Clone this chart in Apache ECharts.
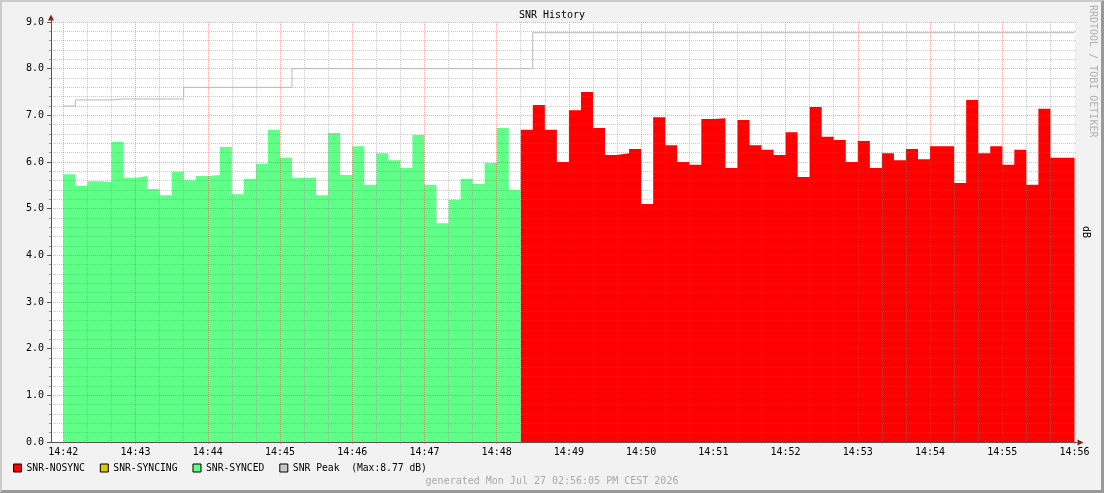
<!DOCTYPE html>
<html>
<head>
<meta charset="UTF-8">
<title>SNR History</title>
<script src="https://cdn.jsdelivr.net/npm/echarts@6/dist/echarts.min.js"></script>
<style>
    html, body { margin: 0; padding: 0; background: #f2f2f2; }
    #chart { width: 1104px; height: 493px; }
    #frame {
        position: absolute; left: 0; top: 0; width: 1104px; height: 493px; box-sizing: border-box;
        border-top: 2px solid #cbcbcb; border-left: 2px solid #cbcbcb;
        border-right: 3px solid #999; border-bottom: 3px solid #999; pointer-events: none;
    }
</style>
</head>
<body>
<div id="chart"></div>
<div id="frame"></div>
<script>
    // tick labels, one per minute
    var timeLabels = ['14:42', '14:43', '14:44', '14:45', '14:46', '14:47', '14:48',
        '14:49', '14:50', '14:51', '14:52', '14:53', '14:54', '14:55', '14:56'];
    var stepSeconds = 10;

    // SNR per 10 s step (dB)
    var syncedValues = [5.74, 5.49, 5.59, 5.57, 6.43, 5.66, 5.70, 5.42, 5.29, 5.79,
        5.61, 5.70, 5.72, 6.32, 5.31, 5.64, 5.96, 6.69, 6.09, 5.66,
        5.66, 5.29, 6.62, 5.72, 6.34, 5.51, 6.19, 6.04, 5.87, 6.58,
        5.51, 4.69, 5.19, 5.64, 5.53, 5.98, 6.73, 5.40];
    var syncingValues = [];
    var nosyncValues = [6.69, 7.22, 6.69, 6.00, 7.11, 7.50, 6.73, 6.15, 6.19, 6.28,
        5.10, 6.96, 6.36, 6.00, 5.94, 6.92, 6.94, 5.87, 6.90, 6.36,
        6.26, 6.15, 6.64, 5.68, 7.18, 6.54, 6.47, 6.00, 6.45, 5.87,
        6.19, 6.04, 6.28, 6.06, 6.34, 6.34, 5.55, 7.33, 6.19, 6.34,
        5.94, 6.26, 5.51, 7.14, 6.09, 6.09];

    // peak: step index where it changes, and the new value
    var peakChangeIndex = [0, 1, 4, 10, 19, 39];
    var peakValues = [7.20, 7.33, 7.35, 7.60, 8.00, 8.77];

    var yTicks = [0, 1, 2, 3, 4, 5, 6, 7, 8, 9];

    function stepPoints(values, start) {
        var pts = values.map(function (v, i) { return [(start + i) * stepSeconds, v]; });
        if (values.length) pts.push([(start + values.length) * stepSeconds, values[values.length - 1]]);
        return pts;
    }

    var total = syncedValues.length + nosyncValues.length;
    var peakPerStep = [];
    for (var i = 0; i < total; i++) {
        var k = 0;
        while (k + 1 < peakChangeIndex.length && peakChangeIndex[k + 1] <= i) k++;
        peakPerStep.push(peakValues[k]);
    }
    var peakMax = Math.max.apply(null, peakValues).toFixed(2);

    var mono = 'DejaVu Sans Mono';
    var majorColor = 'rgba(230,60,60,0.45)';
    var minorColor = 'rgba(130,130,130,0.43)';
    var tMax = (timeLabels.length - 1) * 60;

    var chart = echarts.init(document.getElementById('chart'));
    var option = {
        animation: false,
        backgroundColor: '#f2f2f2',
        textStyle: { fontFamily: mono },
        title: [
            { text: 'SNR History', left: 'center', top: 10, padding: 0,
              textStyle: { fontFamily: mono, fontSize: 10, fontWeight: 'normal', color: '#000' } },
            { text: 'generated Mon Jul 27 02:56:05 PM CEST 2026', left: 'center', top: 476, padding: 0,
              textStyle: { fontFamily: mono, fontSize: 10, fontWeight: 'normal', color: '#aaa' } }
        ],
        legend: {
            left: 13, top: 463, padding: 0, itemWidth: 8, itemHeight: 8, itemGap: 15, icon: 'rect',
            itemStyle: { borderColor: '#000', borderWidth: 1 },
            textStyle: { fontFamily: mono, fontSize: 9.7, color: '#000' },
            data: ['SNR-NOSYNC', 'SNR-SYNCING', 'SNR-SYNCED', 'SNR Peak'],
            formatter: function (name) {
                return name === 'SNR Peak' ? 'SNR Peak  (Max:' + peakMax + ' dB)' : name;
            }
        },
        grid: [
            { left: 63.3, right: 29.5, top: 22, bottom: 51 },
            { left: 51, right: 27, top: 22, bottom: 51 }
        ],
        graphic: [
            { type: 'rect', z: -1, silent: true, shape: { x: 51, y: 22, width: 1023.5, height: 420 }, style: { fill: '#fff' } },
            { type: 'polygon', z: 5, silent: true, shape: { points: [[51, 14.5], [48, 20.5], [54, 20.5]] }, style: { fill: '#8e1b1b' } },
            { type: 'line', z: 5, silent: true, shape: { x1: 51.5, y1: 22, x2: 51.5, y2: 19 }, style: { stroke: '#555', lineWidth: 1 } },
            { type: 'polygon', z: 5, silent: true, shape: { points: [[1083.5, 442.5], [1077.5, 439.5], [1077.5, 445.5]] }, style: { fill: '#8e1b1b' } },
            { type: 'text', x: 1093, y: 5, rotation: -Math.PI / 2, silent: true,
              style: { text: 'RRDTOOL / TOBI OETIKER', fill: '#b0b0b0', font: '10px "DejaVu Sans Mono"', align: 'left', verticalAlign: 'middle' } },
            { type: 'text', x: 1086, y: 232, rotation: -Math.PI / 2, silent: true,
              style: { text: 'dB', fill: '#000', font: '10px "DejaVu Sans Mono"', align: 'center', verticalAlign: 'middle' } }
        ],
        xAxis: [
            {
                gridIndex: 0, type: 'value', min: 0, max: tMax, interval: 60, z: 3,
                axisLine: { show: false },
                axisTick: { show: true, length: 2, lineStyle: { color: majorColor } },
                minorTick: { show: true, splitNumber: 3, length: 2, lineStyle: { color: minorColor } },
                axisLabel: { margin: 5, fontFamily: mono, fontSize: 10, color: '#000',
                    formatter: function (v) { return timeLabels[Math.round(v / 60)]; } },
                splitLine: { show: true, showMaxLine: false, lineStyle: { color: majorColor, type: [1, 1] } },
                minorSplitLine: { show: true, lineStyle: { color: minorColor, type: [1, 1] } }
            },
            {
                gridIndex: 1, type: 'value', min: 0, max: 1, z: 3,
                axisLine: { show: true, lineStyle: { color: '#555' } },
                axisTick: { show: false }, axisLabel: { show: false }, splitLine: { show: false }
            }
        ],
        yAxis: [
            { gridIndex: 0, type: 'value', min: 0, max: 9, show: false },
            {
                gridIndex: 1, type: 'value', min: yTicks[0], max: yTicks[yTicks.length - 1], interval: 1, z: 3,
                axisLine: { show: true, lineStyle: { color: '#555' } },
                axisTick: { show: true, length: 4, lineStyle: { color: '#555' } },
                minorTick: { show: true, splitNumber: 5, length: 2, lineStyle: { color: '#999' } },
                axisLabel: { margin: 7, fontFamily: mono, fontSize: 10, color: '#000',
                    formatter: function (v) { return v.toFixed(1); } },
                splitLine: { show: true, lineStyle: { color: majorColor, type: [1, 1] } },
                minorSplitLine: { show: true, lineStyle: { color: minorColor, type: [1, 1] } }
            }
        ],
        series: [
            { name: 'SNR-NOSYNC', type: 'line', step: 'end', showSymbol: false, z: 2,
              data: stepPoints(nosyncValues, syncedValues.length),
              lineStyle: { width: 0 }, itemStyle: { color: '#ff0000' }, areaStyle: { color: '#ff0000', opacity: 1 } },
            { name: 'SNR-SYNCING', type: 'line', step: 'end', showSymbol: false, z: 2,
              data: stepPoints(syncingValues, 0),
              lineStyle: { width: 0 }, itemStyle: { color: '#dccb00' }, areaStyle: { color: '#dccb00', opacity: 1 } },
            { name: 'SNR-SYNCED', type: 'line', step: 'end', showSymbol: false, z: 2,
              data: stepPoints(syncedValues, 0),
              lineStyle: { width: 0 }, itemStyle: { color: '#60ff88' }, areaStyle: { color: '#60ff88', opacity: 1 } },
            { name: 'SNR Peak', type: 'line', step: 'end', showSymbol: false, z: 4,
              data: stepPoints(peakPerStep, 0),
              lineStyle: { color: '#b8b8b8', width: 1 }, itemStyle: { color: '#c8c8c8' } }
        ]
    };
    chart.setOption(option);
</script>
</body>
</html>
